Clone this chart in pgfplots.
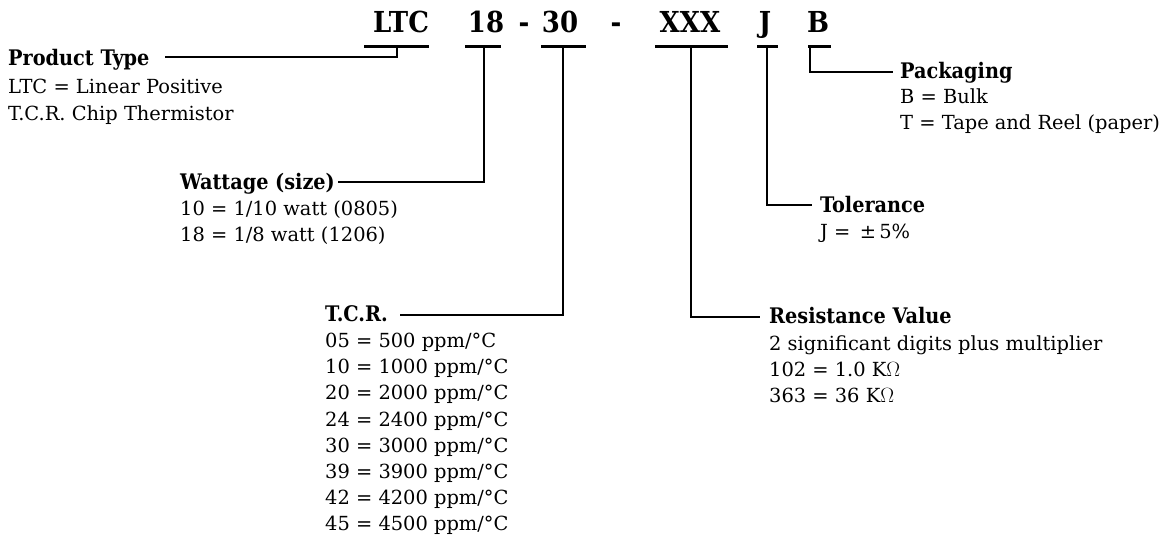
\documentclass[border=0pt]{standalone}
\usepackage{fontspec}
\setmainfont{DejaVu Serif}
\newfontfamily\hdf{DejaVu Serif Condensed}[BoldFont={DejaVu Serif Condensed Bold}]
\usepackage{pgfplots}
\pgfplotsset{compat=1.18}
\begin{document}
\begin{tikzpicture}[
  hd/.style={anchor=base west, inner sep=0pt, font=\hdf\bfseries\fontsize{21.5}{24}\selectfont},
  bd/.style={anchor=base west, inner sep=0pt, font=\fontsize{19.5}{24}\selectfont},
  tp/.style={anchor=base, inner sep=0pt, font=\hdf\bfseries\fontsize{29}{32}\selectfont}]
\begin{axis}[scale only axis, width=1171bp, height=540bp,
  xmin=0, xmax=1171, ymin=0, ymax=540, y dir=reverse,
  hide axis, clip=false]
% bars under the code
\addplot[black, line width=3bp, mark=none] coordinates {(364,46) (429,46)};
\addplot[black, line width=3bp, mark=none] coordinates {(465,46) (501,46)};
\addplot[black, line width=3bp, mark=none] coordinates {(541,46) (586,46)};
\addplot[black, line width=3bp, mark=none] coordinates {(655,46) (728,46)};
\addplot[black, line width=3bp, mark=none] coordinates {(757,46) (778,46)};
\addplot[black, line width=3bp, mark=none] coordinates {(808,46) (831,46)};
% leaders
\addplot[black, line width=2.4bp, mark=none] coordinates {(397,46) (397,57) (165,57)};
\addplot[black, line width=2.4bp, mark=none] coordinates {(484,46) (484,182) (338,182)};
\addplot[black, line width=2.4bp, mark=none] coordinates {(563,46) (563,315) (400,315)};
\addplot[black, line width=2.4bp, mark=none] coordinates {(691,46) (691,317) (760,317)};
\addplot[black, line width=2.4bp, mark=none] coordinates {(767,46) (767,205) (812,205)};
\addplot[black, line width=2.4bp, mark=none] coordinates {(810,46) (810,72) (893,72)};
% code row
\node[tp] at (axis cs:401,32) {LTC};
\node[tp] at (axis cs:486,32) {18};
\node[tp] at (axis cs:524,32) {-};
\node[tp] at (axis cs:560,32) {30};
\node[tp] at (axis cs:616,32) {-};
\node[tp] at (axis cs:690,32) {XXX};
\node[tp] at (axis cs:765,32) {J};
\node[tp] at (axis cs:818,32) {B};
% product type
\node[hd] at (axis cs:8,65) {Product Type};
\node[bd] at (axis cs:8,93) {LTC = Linear Positive};
\node[bd] at (axis cs:8,120) {T.C.R. Chip Thermistor};
% wattage
\node[hd] at (axis cs:180,189) {Wattage (size)};
\node[bd] at (axis cs:180,215) {10 = 1/10 watt (0805)};
\node[bd] at (axis cs:180,241) {18 = 1/8 watt (1206)};
% TCR
\node[hd] at (axis cs:325,321) {T.C.R.};
\node[bd] at (axis cs:325,347) {05 = 500 ppm/°C};
\node[bd] at (axis cs:325,373) {10 = 1000 ppm/°C};
\node[bd] at (axis cs:325,399) {20 = 2000 ppm/°C};
\node[bd] at (axis cs:325,426) {24 = 2400 ppm/°C};
\node[bd] at (axis cs:325,452) {30 = 3000 ppm/°C};
\node[bd] at (axis cs:325,478) {39 = 3900 ppm/°C};
\node[bd] at (axis cs:325,504) {42 = 4200 ppm/°C};
\node[bd] at (axis cs:325,530) {45 = 4500 ppm/°C};
% resistance
\node[hd] at (axis cs:769,323) {Resistance Value};
\node[bd] at (axis cs:769,350) {2 significant digits plus multiplier};
\node[bd] at (axis cs:769,376) {102 = 1.0 K$\Omega$};
\node[bd] at (axis cs:769,402) {363 = 36 K$\Omega$};
% tolerance
\node[hd] at (axis cs:820,212) {Tolerance};
\node[bd] at (axis cs:820,238) {J = \,±\,5\%};
% packaging
\node[hd] at (axis cs:900,78) {Packaging};
\node[bd] at (axis cs:900,103) {B = Bulk};
\node[bd] at (axis cs:900,129) {T = Tape and Reel (paper)};
\end{axis}
\pgfresetboundingbox
\useasboundingbox (0,0) rectangle (1171bp,540bp);
\end{tikzpicture}
\end{document}
